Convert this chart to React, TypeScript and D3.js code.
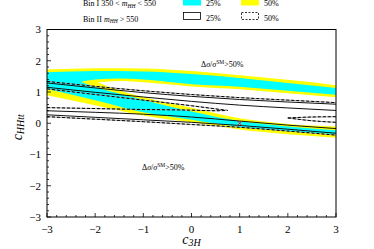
import React from 'react';
import * as d3 from 'd3';

const W = 374;
const H = 249;
const FONT = '"Liberation Serif", "Times New Roman", serif';

// Bin I filled contours, rows of [c3H, upper edge, lower edge]
const yellowOuter = [
  [-3, 1.72, 0.9], [-2, 1.76, 0.58], [-1, 1.75, 0.25], [0, 1.67, 0.03],
  [1, 1.54, -0.2], [2, 1.39, -0.35], [3, 1.22, -0.46],
];
const cyanOuter = [
  [-3, 1.63, 1.1], [-2, 1.67, 0.74], [-1, 1.66, 0.35], [0, 1.58, 0.11],
  [1, 1.45, -0.12], [2, 1.29, -0.25], [3, 1.13, -0.35],
];
const yellowInner = [
  [-2.3, 1.33, 1.33], [-2, 1.4, 1.16], [-1.5, 1.43, 0.95], [-1, 1.4, 0.75],
  [-0.5, 1.33, 0.55], [0, 1.25, 0.38], [1, 1.17, 0.07], [2, 1.04, -0.1], [3, 0.91, -0.22],
];
const whiteInner = [
  [-1.95, 1.31, 1.31], [-1.5, 1.35, 1.05], [-1, 1.31, 0.84], [-0.5, 1.25, 0.66],
  [0, 1.18, 0.5], [1, 1.09, 0.16], [2, 0.96, -0.02], [3, 0.83, -0.1],
];

// Bin II contour lines, [c3H, cHHtt]
const solid25 = [
  [[-3, 1.29], [-2, 1.13], [-1, 0.98], [0, 0.86], [1, 0.76], [2, 0.68], [3, 0.61]],
  [[-3, 1.15], [-2, 0.99], [-1, 0.84], [0, 0.7], [1, 0.58], [2, 0.49], [3, 0.41]],
  [[-3, 0.4], [-2, 0.35], [-1, 0.29], [0, 0.2], [1, 0.07], [2, -0.06], [3, -0.17]],
  [[-3, 0.27], [-2, 0.19], [-1, 0.11], [0, 0.03], [1, -0.07], [2, -0.19], [3, -0.32]],
];
const dashed50 = [
  [[-3, 1.34], [-2, 1.18], [-1, 1.04], [0, 0.92], [1, 0.82], [2, 0.74], [3, 0.66]],
  [[-3, 1.1], [-2, 0.92], [-1, 0.74], [0, 0.56], [0.5, 0.46], [0.75, 0.41]],
  [[-3, 0.5], [-2, 0.47], [-1, 0.44], [0, 0.42], [0.5, 0.4], [0.75, 0.41]],
  [[2, 0.17], [2.5, 0.2], [3, 0.21]],
  [[2, 0.17], [2.5, 0.08], [3, 0.03]],
  [[-3, 0.21], [-2, 0.13], [-1, 0.05], [0, -0.04], [1, -0.13], [2, -0.25], [3, -0.38]],
];

const smPoint = [1, 0];
const majorTicks = [-3, -2, -1, 0, 1, 2, 3];

const x = d3.scaleLinear().domain([-3, 3]).range([47, 336]);
const y = d3.scaleLinear().domain([-3, 3]).range([217, 29.5]);

const area = d3
  .area<number[]>()
  .x((d) => x(d[0]))
  .y0((d) => y(d[2]))
  .y1((d) => y(d[1]))
  .curve(d3.curveMonotoneX);

const line = d3
  .line<number[]>()
  .x((d) => x(d[0]))
  .y((d) => y(d[1]))
  .curve(d3.curveMonotoneX);

const fmt = (v: number) => (v < 0 ? '\u2212' + Math.abs(v) : String(v));

export default function App() {
  const minor = d3.range(-3, 3.001, 0.2).filter((v) => Math.abs(v - Math.round(v)) > 0.01);
  const [x0, x1] = x.range();
  const [y0, y1] = y.range();
  const sx = x(smPoint[0]);
  const sy = y(smPoint[1]);

  return (
    <svg
      width={W}
      height={H}
      style={{ position: 'absolute', left: 0, top: 0, background: '#fff' }}
      fontFamily={FONT}
    >
      <defs>
        <clipPath id="plot">
          <rect x={x0} y={y1} width={x1 - x0} height={y0 - y1} />
        </clipPath>
      </defs>

      {/* legend */}
      <g fontSize={8} fill="#000">
        <text x={83} y={6}>
          Bin I 350 {'<'} <tspan fontStyle="italic">m</tspan>
          <tspan fontStyle="italic" fontSize={5.5} dy={1.5}>HH</tspan>
          <tspan dy={-1.5}> {'<'} 550</tspan>
        </text>
        <text x={83} y={21.5}>
          Bin II <tspan fontStyle="italic">m</tspan>
          <tspan fontStyle="italic" fontSize={5.5} dy={1.5}>HH</tspan>
          <tspan dy={-1.5}> {'>'} 550</tspan>
        </text>
        <rect x={183} y={-2} width={18} height={7.5} fill="#00ffff" />
        <text x={206} y={6}>25%</text>
        <rect x={241} y={-2} width={18} height={7.5} fill="#ffff00" />
        <text x={264} y={6}>50%</text>
        <rect x={183.5} y={12.5} width={17} height={7} fill="none" stroke="#000" strokeWidth={0.8} />
        <text x={206} y={21}>25%</text>
        <rect x={241.5} y={12.5} width={17} height={7} fill="none" stroke="#000" strokeWidth={0.8} strokeDasharray="2,1.5" />
        <text x={264} y={21}>50%</text>
      </g>

      <g clipPath="url(#plot)">
        <path d={area(yellowOuter) || ''} fill="#ffff00" />
        <path d={area(cyanOuter) || ''} fill="#00ffff" />
        <path d={area(yellowInner) || ''} fill="#ffff00" />
        <path d={area(whiteInner) || ''} fill="#ffffff" />

        {solid25.map((c, i) => (
          <path key={'s' + i} d={line(c) || ''} fill="none" stroke="#111" strokeWidth={1} />
        ))}
        {dashed50.map((c, i) => (
          <g key={'d' + i}>
            <path d={line(c) || ''} fill="none" stroke="#9a9a9a" strokeWidth={1} />
            <path d={line(c) || ''} fill="none" stroke="#000" strokeWidth={1} strokeDasharray="3,2" />
          </g>
        ))}

        <g stroke="#e0202a" strokeWidth={1}>
          <line x1={sx - 2.5} y1={sy - 2.5} x2={sx + 2.5} y2={sy + 2.5} />
          <line x1={sx - 2.5} y1={sy + 2.5} x2={sx + 2.5} y2={sy - 2.5} />
        </g>
      </g>

      {/* region labels */}
      <g fontSize={8}>
        <text x={201} y={67}>
          Δ<tspan fontStyle="italic">σ</tspan>/<tspan fontStyle="italic">σ</tspan>
          <tspan fontSize={5.5} dy={-3}>SM</tspan>
          <tspan dy={3}>{'>'}50%</tspan>
        </text>
        <text x={142} y={169.5}>
          Δ<tspan fontStyle="italic">σ</tspan>/<tspan fontStyle="italic">σ</tspan>
          <tspan fontSize={5.5} dy={-3}>SM</tspan>
          <tspan dy={3}>{'>'}50%</tspan>
        </text>
      </g>

      {/* frame and ticks */}
      <rect x={x0} y={y1} width={x1 - x0} height={y0 - y1} fill="none" stroke="#000" strokeWidth={1} />
      <g stroke="#000" strokeWidth={0.8}>
        {majorTicks.map((t) => (
          <g key={'mt' + t}>
            <line x1={x(t)} x2={x(t)} y1={y0} y2={y0 - 4} />
            <line x1={x0} x2={x0 + 4} y1={y(t)} y2={y(t)} />
          </g>
        ))}
        {minor.map((t) => (
          <g key={'mn' + t}>
            <line x1={x(t)} x2={x(t)} y1={y0} y2={y0 - 2} />
            <line x1={x0} x2={x0 + 2} y1={y(t)} y2={y(t)} />
          </g>
        ))}
      </g>
      <g fontSize={11} fill="#000">
        {majorTicks.map((t) => (
          <text key={'xl' + t} x={x(t)} y={233} textAnchor="middle">
            {fmt(t)}
          </text>
        ))}
        {majorTicks.map((t) => (
          <text key={'yl' + t} x={41} y={y(t) + 3.8} textAnchor="end">
            {fmt(t)}
          </text>
        ))}
      </g>

      {/* axis titles */}
      <text x={(x0 + x1) / 2} y={244} textAnchor="middle" fontSize={14} fontStyle="italic">
        c<tspan fontSize={10} dy={2}>3H</tspan>
      </text>
      <text
        transform={`translate(22,${(y0 + y1) / 2 + 4}) rotate(-90)`}
        textAnchor="middle"
        fontSize={14}
        fontStyle="italic"
      >
        c<tspan fontSize={10} dy={2}>HHtt</tspan>
      </text>
    </svg>
  );
}
